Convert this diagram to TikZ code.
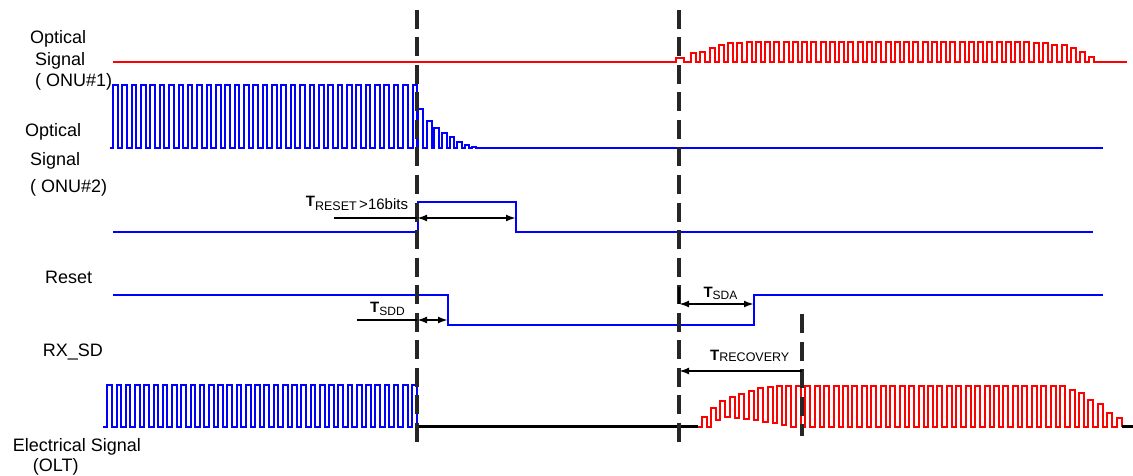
\documentclass[tikz,border=0pt]{standalone}
\usepackage{fontspec}
\setmainfont{Liberation Sans}
\usetikzlibrary{arrows.meta}
\begin{document}
\begin{tikzpicture}[x=1pt,y=-1pt,
  lbl/.style={anchor=base west, inner sep=0pt, font=\fontsize{18}{20}\selectfont},
  tlabel/.style={anchor=base west, inner sep=0pt, font=\fontsize{15}{16}\selectfont},
  wave/.style={line width=2pt, line join=miter},
  bluewave/.style={wave, draw=blue},
  redwave/.style={wave, draw=red},
  timer/.style={line width=2.4pt, draw=black},
  dimarrow/.style={timer, {Latex[length=10pt,width=7pt]}-{Latex[length=10pt,width=7pt]}},
  onearrow/.style={timer, {Latex[length=10pt,width=7pt]}-},
  guide/.style={line width=3.2pt, draw=black!85, dash pattern=on 19pt off 8.5pt}]
\useasboundingbox (0,0) rectangle (1133,476);

% ---------- labels ----------
\node[lbl] (l1a) at (30,44) {Optical};
\node[lbl] (l1b) at (35,66) {Signal};
\node[lbl] (l1c) at (35,87) {( ONU\#1)};
\node[lbl] (l2a) at (25,137) {Optical};
\node[lbl] (l2b) at (30,166) {Signal};
\node[lbl] (l2c) at (30,193) {( ONU\#2)};
\node[lbl] (l3) at (45,283) {Reset};
\node[lbl] (l4) at (42.7,356) {RX\_SD};
\node[lbl] (l5a) at (12.7,451) {Electrical Signal};
\node[lbl] (l5b) at (32.7,471) {(OLT)};

% ---------- ONU#1 optical (red) ----------
\draw[redwave] (113,62.5) -- (676,62.5) -- (676,58) -- (684,58) -- (684,62.5)
  \foreach \t [count=\i from 0] in {53.3,51.7,48.3,45,43.3,42.7,
     41.7,41.7,41.7,41.7,41.7,41.7,41.7,41.7,41.7,41.7,
     41.7,41.7,41.7,41.7,41.7,41.7,41.7,41.7,41.7,41.7,
     41.7,41.7,41.7,41.7,41.7,41.7,41.7,41.7,41.7,41.7,
     41.7,43.3,43.3,45,45,48.3,51.7,56.7}
  { -| ({691+9.263*\i},\t) -- ({696+9.263*\i},\t) -- ({696+9.263*\i},62.5) }
  -- (1127,62.5);

% ---------- ONU#2 optical (blue) ----------
\draw[bluewave] (110,148)
  \foreach \i in {0,...,32}
  { -| ({113+9.36*\i},85) -- ({117.6+9.36*\i},85) -- ({117.6+9.36*\i},148) }
  \foreach \a/\b/\t in {418.3/423.3/109, 426.7/431.7/121, 434.3/439.3/128,
     442.3/446.7/133, 450/454/137, 457.3/461.7/142, 465/469/145, 471.7/475.7/147}
  { -| (\a,\t) -- (\b,\t) -- (\b,148) }
  -- (1103,148);

% ---------- T_RESET signal ----------
\draw[bluewave] (113,232) -- (418,232) -- (418,202) -- (516,202) -- (516,232) -- (1093,232);

% ---------- Reset ----------
\draw[bluewave, line width=2.6pt] (113,295) -- (448,295) -- (448,325) -- (754,325) -- (754,295) -- (1103,295);

% ---------- Electrical signal ----------
\draw[bluewave] (103,426.5)
  \foreach \i in {0,...,33}
  { -| ({107.3+9.245*\i},385) -- ({111.9+9.245*\i},385) -- ({111.9+9.245*\i},426.5) };
\draw[timer] (417,426.5) -- (698,426.5);
\draw[redwave] (698,426.5)
  \foreach \t/\l [count=\i from 0] in {416.7/426.5, 407.7/420, 401/417, 397.3/417.5,
     394/418.5, 390.7/420, 388.3/421.5, 387.3/423, 386/425, 385.7/426.5,
     385.5/426.5,385.5/426.5,385.5/426.5,385.5/426.5,385.5/426.5,385.5/426.5,
     385.5/426.5,385.5/426.5,385.5/426.5,385.5/426.5,385.5/426.5,385.5/426.5,
     385.5/426.5,385.5/426.5,385.5/426.5,385.5/426.5,385.5/426.5,385.5/426.5,
     385.5/426.5,385.5/426.5,385.5/426.5,385.5/426.5,385.5/426.5,385.5/426.5,
     385.5/426.5,385.5/426.5,385.5/426.5,385.5/426.5,385.5/426.5,
     390/426.5, 393.3/426.5, 400/426.5, 404/426.5, 412.7/426.5, 417.7/426.5}
  { -| ({701.5+9.436*\i},\t) -- ({706.5+9.436*\i},\t) -- ({706.5+9.436*\i},\l) };
\draw[timer] (1121.7,426.5) -- (1133,426.5);

% ---------- dashed guides ----------
\coordinate (g1t) at (417,10);  \coordinate (g1b) at (417,442);
\coordinate (g2t) at (679,10);  \coordinate (g2b) at (679,442);
\coordinate (g3t) at (802,314); \coordinate (g3b) at (802,436);
\draw[guide] (g1t) -- (g1b);
\draw[guide] (g2t) -- (g2b);
\draw[guide] (g3t) -- (g3b);

% ---------- timing arrows ----------
\coordinate (ra) at (334,218); \coordinate (rb) at (417,218); \coordinate (rc) at (516,218);
\draw[timer] (ra) -- (rb);
\draw[dimarrow] (rb) -- (rc);
\node[tlabel] (treset) at (305.7,207) {\textbf{T}\raisebox{-4pt}{\fontsize{12.5}{13}\selectfont RESET}\raisebox{-2.5pt}{\,>16bits}};

\coordinate (da) at (357,320); \coordinate (db) at (417,320); \coordinate (dc) at (448,320);
\draw[timer] (da) -- (db);
\draw[dimarrow] (db) -- (dc);
\node[tlabel] (tsdd) at (370,312.7) {\textbf{T}\raisebox{-2.3pt}{\fontsize{12}{13}\selectfont SDD}};

\coordinate (sa) at (679,287); \coordinate (sb) at (679,304); \coordinate (sc) at (754,304);
\draw[timer] (sa) -- (sb);
\draw[dimarrow] (sb) -- (sc);
\node[tlabel] (tsda) at (703.3,297.3) {\textbf{T}\raisebox{-1.7pt}{\fontsize{12}{13}\selectfont SDA}};

\coordinate (ka) at (679,371); \coordinate (kb) at (802,371);
\draw[onearrow] (ka) -- (kb);
\node[tlabel] (trec) at (710,360.7) {\textbf{T}\raisebox{-1pt}{\fontsize{12.5}{13}\selectfont RECOVERY}};
\end{tikzpicture}
\end{document}
